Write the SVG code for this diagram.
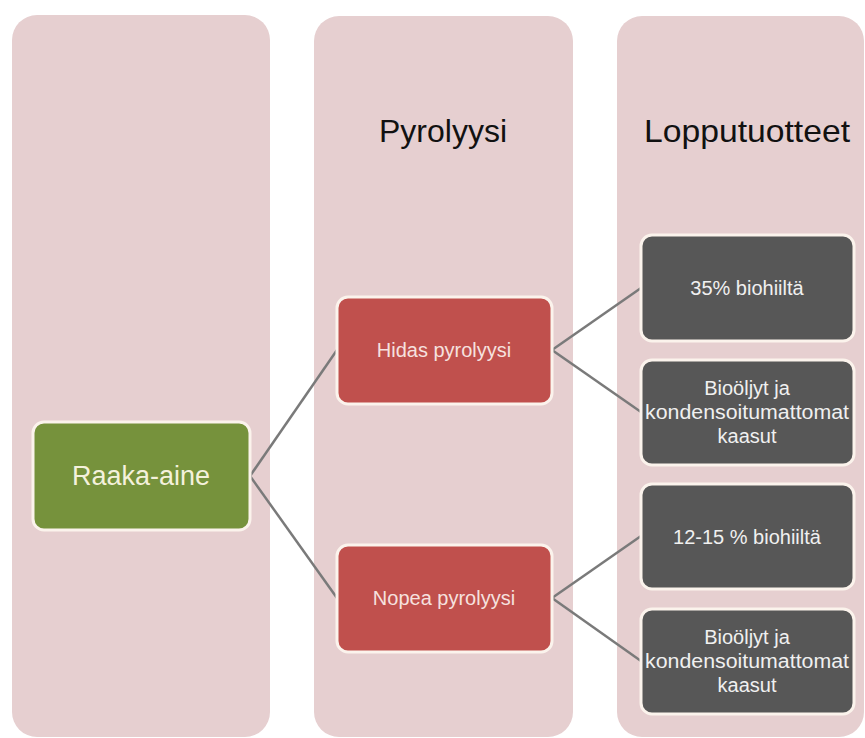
<svg xmlns="http://www.w3.org/2000/svg" width="865" height="738" viewBox="0 0 865 738">
<style>
.col{fill:#E6CFD0;}
.hdr{font-family:"Liberation Sans",Arial,sans-serif;font-size:32px;fill:#111;text-anchor:middle;}
.node{stroke:#FBF3EC;stroke-width:3;}
.green{fill:#76923C;}
.red{fill:#C0504D;}
.dark{fill:#575757;}
.t{font-family:"Liberation Sans",Arial,sans-serif;text-anchor:middle;dominant-baseline:central;}
.conn{stroke:#7A7A7A;stroke-width:2.5;fill:none;}
</style>
<rect width="865" height="738" fill="#FFFFFF"/>
<g id="columns">
<rect class="col" x="12" y="15" width="258" height="722" rx="25"/>
<rect class="col" x="314" y="16" width="259" height="721" rx="25"/>
<rect class="col" x="617" y="16" width="247" height="721" rx="25"/>
<text class="hdr" x="443" y="142">Pyrolyysi</text>
<text class="hdr" x="747" y="142" textLength="206" lengthAdjust="spacingAndGlyphs">Lopputuotteet</text>
</g>
<g id="connectors">
<line class="conn" x1="250" y1="476" x2="337" y2="350"/>
<line class="conn" x1="250" y1="476" x2="337" y2="598"/>
<line class="conn" x1="552" y1="350" x2="641" y2="288"/>
<line class="conn" x1="552" y1="350" x2="641" y2="412"/>
<line class="conn" x1="552" y1="598" x2="641" y2="536"/>
<line class="conn" x1="552" y1="598" x2="641" y2="661"/>
</g>
<g id="raaka-aine">
<rect class="node green" x="33" y="422" width="217" height="108" rx="11"/>
<text class="t" x="141" y="476" font-size="27" fill="#F4F1DC">Raaka-aine</text>
</g>
<g id="hidas">
<rect class="node red" x="337" y="297" width="215" height="107" rx="11"/>
<text class="t" x="444" y="350" font-size="20" fill="#F6E1DF">Hidas pyrolyysi</text>
</g>
<g id="nopea">
<rect class="node red" x="337" y="545" width="215" height="107" rx="11"/>
<text class="t" x="444" y="598" font-size="20" fill="#F6E1DF">Nopea pyrolyysi</text>
</g>
<g id="hidas-biohiili">
<rect class="node dark" x="641" y="235" width="213" height="106" rx="11"/>
<text class="t" x="747" y="288" font-size="20" fill="#F0F0F0">35% biohiiltä</text>
</g>
<g id="hidas-bioöljyt">
<rect class="node dark" x="641" y="360" width="213" height="105" rx="11"/>
<text class="t" x="747" font-size="20" fill="#F0F0F0"><tspan x="747" y="388">Bioöljyt ja</tspan><tspan x="747" y="412" textLength="204" lengthAdjust="spacingAndGlyphs">kondensoitumattomat</tspan><tspan x="747" y="436">kaasut</tspan></text>
</g>
<g id="nopea-biohiili">
<rect class="node dark" x="641" y="484" width="213" height="105" rx="11"/>
<text class="t" x="747" y="537" font-size="20" fill="#F0F0F0">12-15 % biohiiltä</text>
</g>
<g id="nopea-bioöljyt">
<rect class="node dark" x="641" y="609" width="213" height="105" rx="11"/>
<text class="t" x="747" font-size="20" fill="#F0F0F0"><tspan x="747" y="637">Bioöljyt ja</tspan><tspan x="747" y="661" textLength="204" lengthAdjust="spacingAndGlyphs">kondensoitumattomat</tspan><tspan x="747" y="685">kaasut</tspan></text>
</g>
</svg>
